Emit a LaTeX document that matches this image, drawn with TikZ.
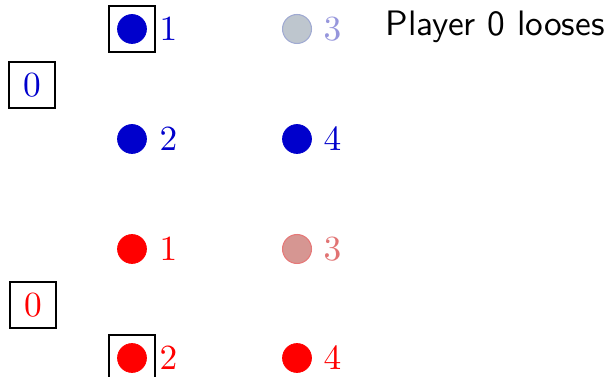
\documentclass[tikz,border=0pt]{standalone}
\begin{document}
\begin{tikzpicture}[x=0.283pt,y=-0.283pt,
  bdot/.style={circle,fill=pblue,draw=pblue,line width=0.2pt,minimum size=8.2pt,inner sep=0pt},
  bfade/.style={circle,fill=fadeblue,draw=fadeblueline,line width=0.3pt,minimum size=8.2pt,inner sep=0pt},
  rdot/.style={circle,fill=red,draw=red,line width=0.2pt,minimum size=8.2pt,inner sep=0pt},
  rfade/.style={circle,fill=fadered,draw=faderedline,line width=0.3pt,minimum size=8.2pt,inner sep=0pt},
  lab/.style={anchor=west,inner sep=0pt},
  sel/.style={draw=black,line width=0.45pt,minimum size=13pt,inner sep=0pt},
  turn/.style={draw=black,line width=0.45pt,minimum size=13pt,inner sep=0pt}]
\definecolor{pblue}{RGB}{0,0,204}
\definecolor{fadeblue}{RGB}{190,198,206}
\definecolor{fadeblueline}{RGB}{160,170,210}
\definecolor{fadebluetext}{RGB}{150,150,220}
\definecolor{fadered}{RGB}{214,150,146}
\definecolor{faderedline}{RGB}{230,120,120}
\definecolor{faderedtext}{RGB}{225,115,115}
\useasboundingbox (0,0) rectangle (613,377);
\clip (0,0) rectangle (613,377);
% blue player
\node[bdot] (b1) at (132,29) {};
\node[bfade] (b3) at (297,29) {};
\node[bdot] (b2) at (132,139) {};
\node[bdot] (b4) at (297,139) {};
\node[sel] (bs) at (132,29) {};
\node[turn,text=pblue] (b0) at (32,85) {$0$};
\node[lab,text=pblue] (lb1) at (159,29) {$1$};
\node[lab,text=fadebluetext] (lb3) at (323,29) {$3$};
\node[lab,text=pblue] (lb2) at (159,139) {$2$};
\node[lab,text=pblue] (lb4) at (323,139) {$4$};
% red player
\node[rdot] (r1) at (132,249) {};
\node[rfade] (r3) at (297,249) {};
\node[rdot] (r2) at (132,358) {};
\node[rdot] (r4) at (297,358) {};
\node[sel] (rs) at (132,358) {};
\node[turn,text=red] (r0) at (33,305) {$0$};
\node[lab,text=red] (lr1) at (159,249) {$1$};
\node[lab,text=faderedtext] (lr3) at (323,249) {$3$};
\node[lab,text=red] (lr2) at (159,358) {$2$};
\node[lab,text=red] (lr4) at (323,358) {$4$};
% message
\node[anchor=base west,inner sep=0pt,font=\sffamily] (msg) at (385,36) {Player 0 looses};
\end{tikzpicture}
\end{document}
